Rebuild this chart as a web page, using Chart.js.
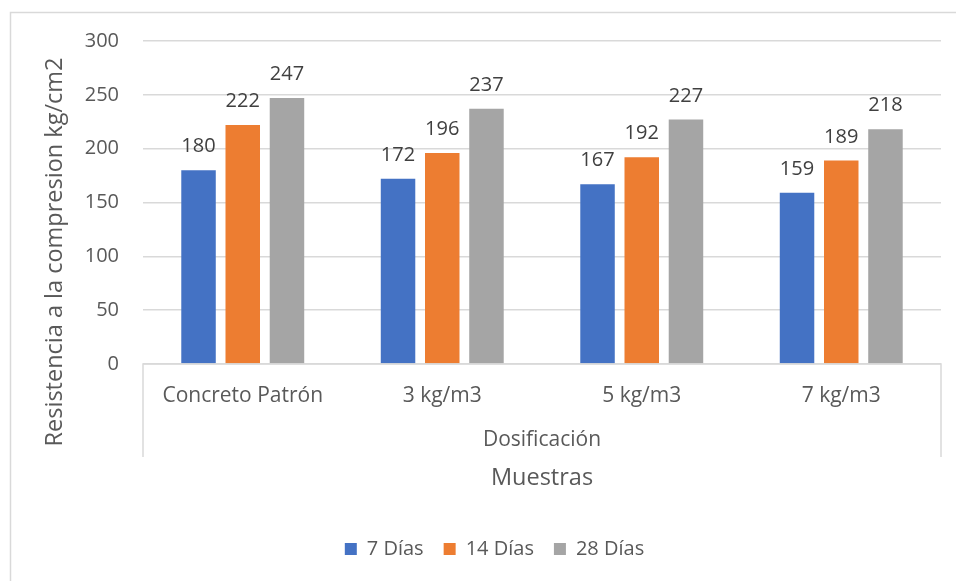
<!DOCTYPE html>
<html>
<head>
<meta charset="utf-8">
<script src="https://cdn.jsdelivr.net/npm/chart.js@4.4.1/dist/chart.umd.min.js"></script>
<style>
  html, body { margin: 0; padding: 0; background: #ffffff; }
  #wrap { width: 956px; height: 581px; position: relative; }
</style>
</head>
<body>
<div id="wrap"><canvas id="c" width="956" height="581"></canvas></div>
<script>
// Compressive strength per mix, by curing age
const categories = ['Concreto Patrón', '3 kg/m3', '5 kg/m3', '7 kg/m3'];
const seriesNames = ['7 Días', '14 Días', '28 Días'];
const dias7 = [180, 172, 167, 159];
const dias14 = [222, 196, 192, 189];
const dias28 = [247, 237, 227, 218];
const yTicks = [0, 50, 100, 150, 200, 250, 300];

const colors = ['#4472C4', '#ED7D31', '#A5A5A5'];
const FONT = '"Open Sans", Lato, sans-serif';
const TEXT = '#595959';
const LINE = '#D9D9D9';
const SIZE = 20;

const decorations = {
  id: 'decorations',
  afterUpdate(chart) {
    // legend sits centred on the full chart frame, which runs past the right edge
    if (chart.legend) {
      chart.legend.left += 19;
      chart.legend.right += 19;
    }
  },
  beforeDraw(chart) {
    const ctx = chart.ctx;
    ctx.save();
    ctx.fillStyle = '#ffffff';
    ctx.fillRect(0, 0, chart.width, chart.height);
    // chart frame
    ctx.strokeStyle = LINE;
    ctx.lineWidth = 1.5;
    ctx.beginPath();
    ctx.moveTo(10.5, chart.height + 5);
    ctx.lineTo(10.5, 12.5);
    ctx.lineTo(chart.width + 5, 12.5);
    ctx.stroke();
    ctx.restore();
  },
  afterDraw(chart) {
    const ctx = chart.ctx;
    const area = chart.chartArea;
    ctx.save();
    // category axis box
    ctx.strokeStyle = LINE;
    ctx.lineWidth = 1.5;
    ctx.beginPath();
    ctx.moveTo(area.left, 457);
    ctx.lineTo(area.left, area.bottom);
    ctx.lineTo(area.right, area.bottom);
    ctx.lineTo(area.right, 457);
    ctx.stroke();

    // value labels above bars
    ctx.fillStyle = '#404040';
    ctx.font = SIZE + 'px ' + FONT;
    ctx.textAlign = 'center';
    ctx.textBaseline = 'alphabetic';
    chart.data.datasets.forEach((ds, i) => {
      const meta = chart.getDatasetMeta(i);
      meta.data.forEach((bar, j) => {
        ctx.fillText(String(ds.data[j]), bar.x, bar.y - 18);
      });
    });

    // group label and axis titles
    const cx = (area.left + area.right) / 2;
    ctx.fillStyle = TEXT;
    ctx.textBaseline = 'middle';
    ctx.font = '21px ' + FONT;
    ctx.fillText('Dosificación', cx, 440);
    ctx.font = '23.5px ' + FONT;
    ctx.fillText('Muestras', cx, 478);

    ctx.translate(55, 252);
    ctx.rotate(-Math.PI / 2);
    ctx.font = '23.5px ' + FONT;
    ctx.fillText('Resistencia a la compresion kg/cm2', 0, 0);
    ctx.restore();
  }
};

new Chart(document.getElementById('c'), {
  type: 'bar',
  data: {
    labels: categories,
    datasets: [
      { label: seriesNames[0], data: dias7, backgroundColor: colors[0] },
      { label: seriesNames[1], data: dias14, backgroundColor: colors[1] },
      { label: seriesNames[2], data: dias28, backgroundColor: colors[2] }
    ]
  },
  options: {
    responsive: false,
    animation: false,
    devicePixelRatio: 1,
    layout: { padding: { left: 10, right: 15, top: 41, bottom: 12 } },
    datasets: { bar: { categoryPercentage: 0.665, barPercentage: 0.78 } },
    scales: {
      x: {
        grid: { display: false, drawTicks: false },
        border: { display: false },
        ticks: { color: TEXT, font: { family: FONT, size: 21 }, padding: 19, maxRotation: 0 },
        afterFit(scale) { scale.height = 155; }
      },
      y: {
        min: 0, max: 300,
        afterBuildTicks(scale) { scale.ticks = yTicks.map(v => ({ value: v })); },
        grid: { color: LINE, lineWidth: 1.5, drawTicks: false },
        border: { display: false },
        ticks: { color: TEXT, font: { family: FONT, size: SIZE }, padding: 24 },
        afterFit(scale) { scale.width = 133; }
      }
    },
    plugins: {
      legend: {
        position: 'bottom',
        labels: {
          color: TEXT,
          font: { family: FONT, size: SIZE },
          boxWidth: 12, boxHeight: 12,
          padding: 20
        }
      },
      tooltip: { enabled: false }
    }
  },
  plugins: [decorations]
});
</script>
</body>
</html>
